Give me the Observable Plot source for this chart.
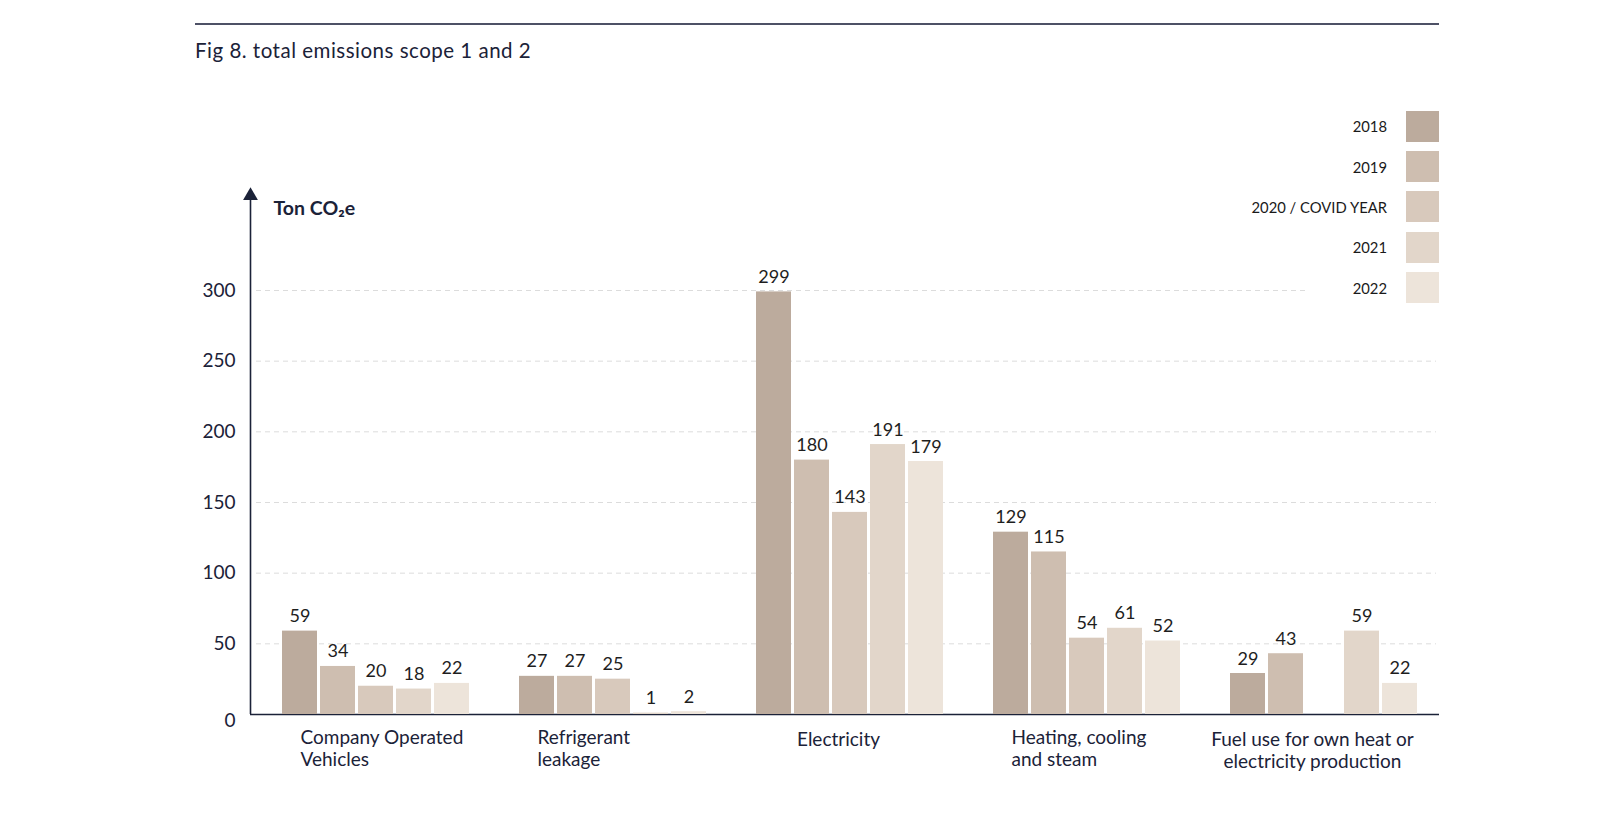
<!DOCTYPE html>
<html>
<head>
<meta charset="utf-8">
<script src="https://cdn.jsdelivr.net/npm/d3@7"></script>
<script src="https://cdn.jsdelivr.net/npm/@observablehq/plot@0.6"></script>
<style>
  html, body { margin: 0; padding: 0; background: #fff; }
  #wrap { position: relative; width: 1620px; height: 814px; overflow: hidden; background: #fff; font-family: Lato, "Open Sans", sans-serif; }
  #wrap svg { position: absolute; left: 0; top: 0; }
  #topline { position: absolute; left: 195px; top: 23px; width: 1244px; height: 1.6px; background: #4e5166; }
  #title { position: absolute; left: 195px; top: 40px; font-size: 20.5px; letter-spacing: 0.5px; line-height: 1; color: #1b2238; white-space: nowrap; }
  #cover { position: absolute; left: 1308px; top: 270px; width: 131px; height: 40px; background: #fff; z-index: 4; }
  #legend { position: absolute; left: 1150px; top: 100px; width: 289px; padding: 6px 0; z-index: 5; }
  .lrow { display: flex; justify-content: flex-end; align-items: center; height: 40.4px; }
  .lrow span { font-size: 14.8px; color: #1a1a1a; margin-right: 19px; white-space: nowrap; }
  .lrow i { display: block; flex: 0 0 33px; width: 33px; height: 31px; }
</style>
</head>
<body>
<div id="wrap">
  <div id="topline"></div>
  <div id="title">Fig 8. total emissions scope 1 and 2</div>
  <div id="cover"></div>
  <div id="legend"></div>
</div>
<script>
// ---- data ----
const categories = [
  "Company Operated\nVehicles",
  "Refrigerant\nleakage",
  "Electricity",
  "Heating, cooling\nand steam",
  "Fuel use for own heat or\nelectricity production"
];
const years = ["2018", "2019", "2020 / COVID YEAR", "2021", "2022"];
const values2018 = [59, 27, 299, 129, 29];
const values2019 = [34, 27, 180, 115, 43];
const values2020 = [20, 25, 143, 54, null];
const values2021 = [18, 1, 191, 61, 59];
const values2022 = [22, 2, 179, 52, 22];
const yearColors = ["#bcab9d", "#cebeb0", "#d8c9bc", "#e2d6ca", "#ede4da"];
const yTicks = [0, 50, 100, 150, 200, 250, 300];
const yUnitLabel = "Ton CO₂e";
const arrowTopValue = 367;
const unitLabelValue = 358;

const series = [values2018, values2019, values2020, values2021, values2022];
const rows = [];
categories.forEach((c, i) => {
  years.forEach((y, j) => {
    const v = series[j][i];
    if (v != null) rows.push({category: c, year: y, value: v});
  });
});

// labels drawn centred under their group; the others are left-aligned blocks
const centredLabels = new Set([categories[2], categories[4]]);

const navy = "#1b2238";
const W = 1620, H = 814;
const common = {width: W, height: H, marginTop: 290, marginBottom: 100};
const yScale = {domain: [0, 300], axis: null};
const font = "Lato, 'Open Sans', sans-serif";

// ---- background layer: grid, axis, arrow ----
const bg = Plot.plot({
  ...common,
  marginLeft: 250,
  marginRight: 181,
  style: {background: "transparent", color: navy, fontFamily: font},
  x: {domain: [0, 1], axis: null},
  y: yScale,
  marks: [
    Plot.ruleY(yTicks.filter(d => d > 0), {stroke: "#dcdcdc", strokeDasharray: "5,4", insetLeft: 6, insetRight: 3}),
    Plot.axisY({ticks: yTicks.filter(d => d > 0), tickSize: 0, tickPadding: 15, fontSize: 19, fill: navy, label: null}),
    Plot.axisY({ticks: [0], tickSize: 0, tickPadding: 15, fontSize: 19, fill: navy, label: null, dy: 6}),
    Plot.ruleY([0], {stroke: navy, strokeWidth: 1.6}),
    Plot.ruleX([0], {y1: 0, y2: arrowTopValue - 3, stroke: navy, strokeWidth: 1.6}),
    Plot.dot([{x: 0, y: arrowTopValue}], {x: "x", y: "y", symbol: "triangle", r: 5.5, fill: navy, stroke: "none"}),
    Plot.text([{x: 0, y: unitLabelValue, t: yUnitLabel}], {x: "x", y: "y", text: "t", dx: 23, textAnchor: "start", fontSize: 19.5, fontWeight: 700, fill: navy})
  ]
});

// ---- bars layer ----
const bars = Plot.plot({
  ...common,
  marginLeft: 280,
  marginRight: 202,
  style: {background: "transparent", fontFamily: font},
  fx: {domain: categories, paddingInner: 0.2084, paddingOuter: 0, axis: null, label: null},
  x: {domain: years, paddingInner: 0.088, paddingOuter: 0, axis: null},
  y: yScale,
  color: {domain: years, range: yearColors},
  marks: [
    Plot.barY(rows, {fx: "category", x: "year", y: "value", fill: "year"}),
    Plot.text(rows, {fx: "category", x: "year", y: "value", text: d => String(d.value), lineAnchor: "bottom", dy: -9, fontSize: 18, fill: "#1e1e1e"}),
    Plot.text(categories.filter(c => !centredLabels.has(c)), {fx: d => d, text: d => d, frameAnchor: "bottom-left", textAnchor: "start", lineAnchor: "top", dy: 13, dx: 19, fontSize: 19, lineHeight: 1.2, fill: navy}),
    Plot.text(categories.filter(c => centredLabels.has(c)), {fx: d => d, text: d => d, frameAnchor: "bottom", lineAnchor: "top", dy: 15, dx: -11, fontSize: 19, lineHeight: 1.2, fill: navy})
  ]
});

const wrap = document.getElementById("wrap");
wrap.appendChild(bg);
wrap.appendChild(bars);

// ---- legend ----
const legend = document.getElementById("legend");
years.forEach((y, i) => {
  const r = document.createElement("div");
  r.className = "lrow";
  const s = document.createElement("span");
  s.textContent = y;
  const sw = document.createElement("i");
  sw.style.background = yearColors[i];
  r.appendChild(s);
  r.appendChild(sw);
  legend.appendChild(r);
});
</script>
</body>
</html>
